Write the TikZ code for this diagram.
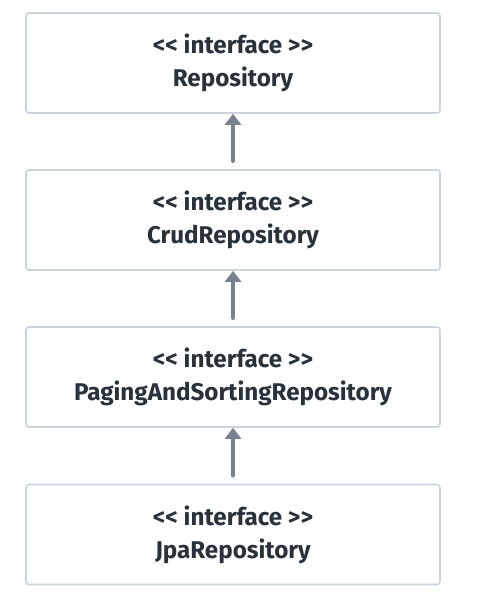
\documentclass[tikz,border=0pt]{standalone}
\usepackage{fontspec}
\setmainfont{Fira Sans}
\usetikzlibrary{positioning,arrows.meta}
\definecolor{boxline}{HTML}{C9D4DE}
\definecolor{arrowgray}{HTML}{77848F}
\definecolor{textdark}{HTML}{27323D}
\begin{document}
\begin{tikzpicture}[x=1pt, y=1pt, line join=round, line cap=round, >={Triangle[width=16pt,length=11pt]},
	iface/.style={draw=boxline, line width=1.6pt, rounded corners=3pt, fill=white,
		minimum width=414pt, minimum height=100pt, align=center, text=textdark,
		font=\fontsize{24.2}{33}\selectfont\bfseries},
	extends/.style={->, draw=arrowgray, line width=3.6pt, shorten <=8pt}]
	\useasboundingbox (0,0) rectangle (485,-602);
	\def\bx{233} % Mitte der Boxen
	\node[iface] (repo) at (\bx,-63) {<{}< interface >{}>\\Repository};
	\node[iface] (crud) at (\bx,-220) {<{}< interface >{}>\\CrudRepository};
	\node[iface] (paging) at (\bx,-377) {<{}< interface >{}>\\PagingAndSortingRepository};
	\node[iface] (jpa) at (\bx,-534.5) {<{}< interface >{}>\\JpaRepository};
	\draw[extends] (crud.north) -- (repo.south);
	\draw[extends] (paging.north) -- (crud.south);
	\draw[extends] (jpa.north) -- (paging.south);
\end{tikzpicture}
\end{document}
